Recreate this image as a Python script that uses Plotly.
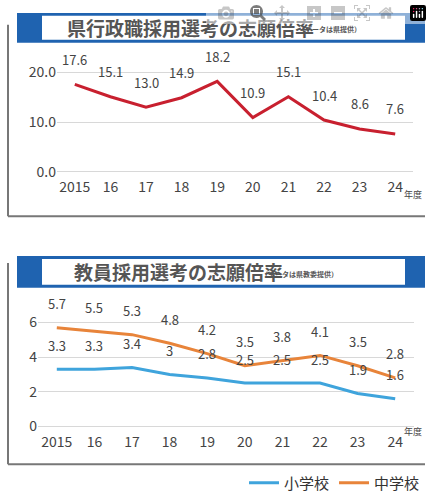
import plotly.graph_objects as go

years = ["2015", "16", "17", "18", "19", "20", "21", "22", "23", "24"]
pref = [17.6, 15.1, 13.0, 14.9, 18.2, 10.9, 15.1, 10.4, 8.6, 7.6]
elem = [3.3, 3.3, 3.4, 3.0, 2.8, 2.5, 2.5, 2.5, 1.9, 1.6]
junior = [5.7, 5.5, 5.3, 4.8, 4.2, 3.5, 3.8, 4.1, 3.5, 2.8]
elem_labels = ["3.3", "3.3", "3.4", "3", "2.8", "2.5", "2.5", "2.5", "1.9", "1.6"]

W, H = 432, 500
F = "Noto Sans CJK JP"
TC = "#444444"
xs = list(range(len(years)))

fig = go.Figure()
fig.add_trace(go.Scatter(x=xs, y=pref, mode="lines", line=dict(color="#c8202f", width=3),
                         showlegend=False, xaxis="x", yaxis="y"))
fig.add_trace(go.Scatter(x=xs, y=elem, mode="lines", line=dict(color="#3fa4dc", width=3),
                         name="小学校", xaxis="x2", yaxis="y2"))
fig.add_trace(go.Scatter(x=xs, y=junior, mode="lines", line=dict(color="#e8843a", width=3),
                         name="中学校", xaxis="x2", yaxis="y2"))

ann = []
for i, v in enumerate(pref):
    ann.append(dict(x=i, y=v, xref="x", yref="y", text=f"{v:.1f}", showarrow=False,
                    yshift=25, font=dict(size=13, color=TC, family=F)))
for i, v in enumerate(junior):
    ann.append(dict(x=i, y=v, xref="x2", yref="y2", text=f"{v:.1f}", showarrow=False,
                    yshift=24, font=dict(size=13, color=TC, family=F)))
for i, v in enumerate(elem):
    ann.append(dict(x=i, y=v, xref="x2", yref="y2", text=elem_labels[i], showarrow=False,
                    yshift=24, font=dict(size=13, color=TC, family=F)))

def px(x):
    return x / W
def py(y):
    return 1 - y / H

for (tx, ty, s) in [(402, 196, "年度"), (402, 444, "年度")]:
    ann.append(dict(x=px(tx), y=py(ty), xref="paper", yref="paper", text=s, showarrow=False,
                    xanchor="left", font=dict(size=9, color=TC, family=F)))

ann.append(dict(x=px(190), y=py(28), xref="paper", yref="paper", yanchor="middle",
                text="<b>県行政職採用選考の志願倍率</b>", showarrow=False,
                font=dict(size=19, color="#555555", family=F)))
ann.append(dict(x=px(363), y=py(29), xref="paper", yref="paper", yanchor="middle",
                text="<b>（データは県提供）</b>", showarrow=False,
                font=dict(size=7, color="#555555", family=F)))
ann.append(dict(x=px(178), y=py(274), xref="paper", yref="paper", yanchor="middle",
                text="<b>教員採用選考の志願倍率</b>", showarrow=False,
                font=dict(size=19, color="#555555", family=F)))
ann.append(dict(x=px(340), y=py(276), xref="paper", yref="paper", yanchor="middle",
                text="<b>（データは県教委提供）</b>", showarrow=False,
                font=dict(size=7, color="#555555", family=F)))

shapes = []
for (y0, y1, fy0, fy1) in [(13, 43, 25, 218), (258, 290, 265, 468)]:
    shapes.append(dict(type="line", xref="paper", yref="paper", x0=px(8), x1=px(8),
                       y0=py(fy0), y1=py(fy1), line=dict(color="#777", width=2), layer="below"))
    shapes.append(dict(type="line", xref="paper", yref="paper", x0=px(8), x1=px(425),
                       y0=py(fy1), y1=py(fy1), line=dict(color="#777", width=2), layer="below"))
    shapes.append(dict(type="rect", xref="paper", yref="paper", x0=px(17), x1=px(425),
                       y0=py(y1), y1=py(y0), fillcolor="#1f63b0", line=dict(width=0), layer="below"))
    shapes.append(dict(type="rect", xref="paper", yref="paper", x0=px(42), x1=px(405),
                       y0=py(y1 - 3), y1=py(y0 + 3), fillcolor="white", line=dict(width=0), layer="below"))

axfont = dict(size=14, color=TC, family=F)
fig.update_layout(
    width=W, height=H, margin=dict(l=0, r=0, t=0, b=0),
    paper_bgcolor="white", plot_bgcolor="rgba(0,0,0,0)",
    annotations=ann, shapes=shapes,
    xaxis=dict(domain=[px(57), px(413)], range=[-0.5, 9.5], tickvals=xs, ticktext=years,
               showgrid=False, zeroline=False, tickfont=axfont, anchor="y"),
    yaxis=dict(domain=[py(178), py(50)], range=[-1, 24.6], tickvals=[0, 10, 20],
               ticktext=["0.0", "10.0", "20.0"], gridcolor="#d8d8d8", zeroline=False,
               tickfont=axfont, anchor="x"),
    xaxis2=dict(domain=[px(38), px(414)], range=[-0.5, 9.5], tickvals=xs, ticktext=years,
                showgrid=False, zeroline=False, tickfont=axfont, anchor="y2"),
    yaxis2=dict(domain=[py(435), py(292)], range=[-0.3, 7.9], tickvals=[0, 2, 4, 6],
                gridcolor="#d8d8d8", zeroline=False, tickfont=axfont, anchor="x2"),
    legend=dict(orientation="h", x=px(425), xanchor="right", y=py(487), yanchor="middle",
                font=dict(size=15, color="#333", family=F), bgcolor="rgba(0,0,0,0)"),
)
fig.write_html("out.html",
               post_script="document.body.style.margin='0';document.body.style.overflow='hidden';")
